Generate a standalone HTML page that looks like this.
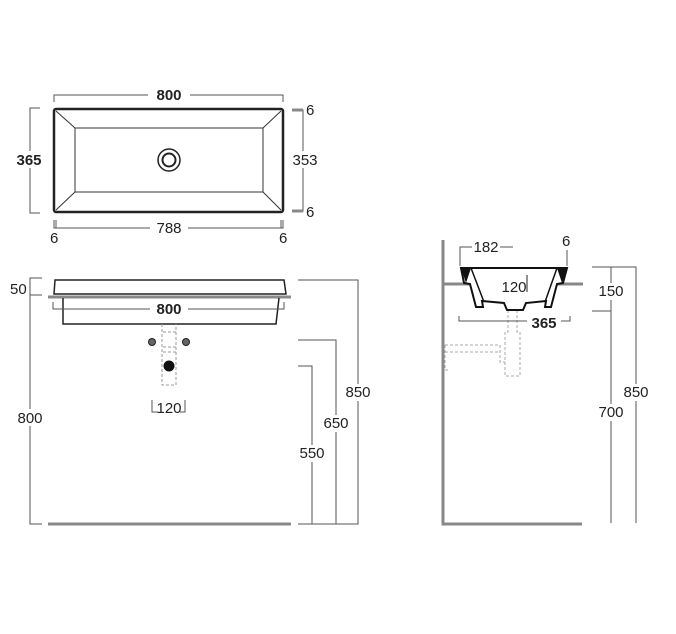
<!DOCTYPE html>
<html><head><meta charset="utf-8"><style>
html,body{margin:0;padding:0;background:#fff;}
svg{display:block;}
text{font-family:"Liberation Sans",sans-serif;font-size:15px;fill:#222;}
.b{font-weight:bold;}
</style></head><body>
<svg width="676" height="634" viewBox="0 0 676 634" xmlns="http://www.w3.org/2000/svg">
<g fill="none" stroke="#555" stroke-width="1">
<path d="M54,102 V95 H283 V102"/>
<path d="M40,108 H30 V213 H40"/>
<path d="M293,110 H303 V211 H293"/>
<path d="M54,220 V228 H283 V220"/>
<path d="M56,220 V228 M281,220 V228"/>
</g>
<path d="M292,110 H303 M292,211 H303" stroke="#888" stroke-width="3"/>
<rect x="148" y="87" width="42" height="15" fill="#fff"/>
<text x="169" y="100" text-anchor="middle" class="b">800</text>
<rect x="12" y="151" width="34" height="17" fill="#fff"/>
<text x="29" y="165" text-anchor="middle" class="b">365</text>
<rect x="290" y="151" width="30" height="17" fill="#fff"/>
<text x="305" y="165" text-anchor="middle">353</text>
<text x="306" y="115">6</text>
<text x="306" y="217">6</text>
<rect x="150" y="220" width="38" height="15" fill="#fff"/>
<text x="169" y="233" text-anchor="middle">788</text>
<text x="50" y="243">6</text>
<text x="279" y="243">6</text>
<rect x="54" y="109" width="229" height="103" rx="2" fill="#fff" stroke="#222" stroke-width="2.5"/>
<rect x="75" y="128" width="188" height="64" fill="none" stroke="#333" stroke-width="1"/>
<path d="M56,111 L75,128 M281,111 L263,128 M56,210 L75,192 M281,210 L263,192" stroke="#333" stroke-width="1"/>
<circle cx="169" cy="160" r="11" fill="#fff" stroke="#222" stroke-width="1.5"/>
<circle cx="169" cy="160" r="6.5" fill="#fff" stroke="#222" stroke-width="2"/>

<!-- FRONT VIEW -->
<path d="M48,297 H291" stroke="#888" stroke-width="3"/>
<path d="M48,524 H291" stroke="#888" stroke-width="3"/>
<path d="M55,280 H284 L286,294 H54 Z" fill="#fff" stroke="#222" stroke-width="1.5"/>
<path d="M63,298 V324 H276 L279,298" fill="none" stroke="#222" stroke-width="1.5"/>
<g fill="none" stroke="#555" stroke-width="1">
<path d="M53,302 V309 H154 M186,309 H284 V302"/>
<path d="M42,278 H30 V295 H42 M30,295 V524 H42"/>
<path d="M298,280 H358 V524 H298 M298,340 H336 V524 M298,366 H312 V524"/>
<path d="M152,400 V412 H158 M185,400 V412 H180"/>
</g>
<rect x="150" y="300" width="38" height="16" fill="#fff"/>
<text x="169" y="314" text-anchor="middle" class="b">800</text>
<text x="10" y="294">50</text>
<rect x="12" y="409" width="36" height="17" fill="#fff"/>
<text x="30" y="423" text-anchor="middle">800</text>
<rect x="340" y="384" width="36" height="17" fill="#fff"/>
<text x="358" y="397" text-anchor="middle">850</text>
<rect x="318" y="415" width="36" height="17" fill="#fff"/>
<text x="336" y="428" text-anchor="middle">650</text>
<rect x="294" y="445" width="36" height="17" fill="#fff"/>
<text x="312" y="458" text-anchor="middle">550</text>
<text x="169" y="413" text-anchor="middle">120</text>
<g fill="none" stroke="#999" stroke-width="1" stroke-dasharray="3,2">
<path d="M162,324 V385 H176 V324"/>
<path d="M163,332 H176 M163,347 H176 M163,352 H176"/>
</g>
<circle cx="152" cy="342" r="3.5" fill="#666" stroke="#222"/>
<circle cx="186" cy="342" r="3.5" fill="#666" stroke="#222"/>
<circle cx="169" cy="366" r="5.5" fill="#111"/>

<!-- SIDE VIEW -->
<path d="M443,240 V524 H582" fill="none" stroke="#888" stroke-width="3"/>
<path d="M443,284 H583" stroke="#888" stroke-width="3"/>
<g fill="none" stroke="#aaa" stroke-width="1" stroke-dasharray="3,2">
<path d="M508,310 V332 H505 V376 H520 V332 H517 V310"/>
<path d="M445,345 H500 V362 H505 M445,345 V370 H450 M445,352 H500"/>
</g>
<path d="M461,268 H567 L563,283 L557,284 L551,307 L545,307 L546,301 L526,303 L523,310 L507,310 L504,303 L482,301 L483,307 L476,307 L470,284 L464,283 Z" fill="#fff" stroke="#111" stroke-width="2"/>
<path d="M461,268 L471,268 L466,283 Z M567,268 L557,268 L562,283 Z" fill="#111"/>
<path d="M471,268 L484,302 M557,268 L545,302" stroke="#111" stroke-width="1.5"/>
<g fill="none" stroke="#555" stroke-width="1">
<path d="M460,266 V247 H472 M500,247 H513"/>
<path d="M567,250 V266"/>
<path d="M459,316 V321 H528 M561,321 H570 V316"/>
<path d="M592,267 H636 V523 M592,311 H611 M611,267 V523"/>
</g>
<path d="M527,275 V292" stroke="#222" stroke-width="1"/>
<text x="486" y="252" text-anchor="middle">182</text>
<text x="562" y="246">6</text>
<text x="514" y="292" text-anchor="middle">120</text>
<rect x="527" y="315" width="34" height="15" fill="#fff"/>
<text x="544" y="328" text-anchor="middle" class="b">365</text>
<rect x="593" y="283" width="36" height="17" fill="#fff"/>
<text x="611" y="296" text-anchor="middle">150</text>
<rect x="618" y="384" width="36" height="17" fill="#fff"/>
<text x="636" y="397" text-anchor="middle">850</text>
<rect x="593" y="404" width="36" height="17" fill="#fff"/>
<text x="611" y="417" text-anchor="middle">700</text>
</svg>
</body></html>
